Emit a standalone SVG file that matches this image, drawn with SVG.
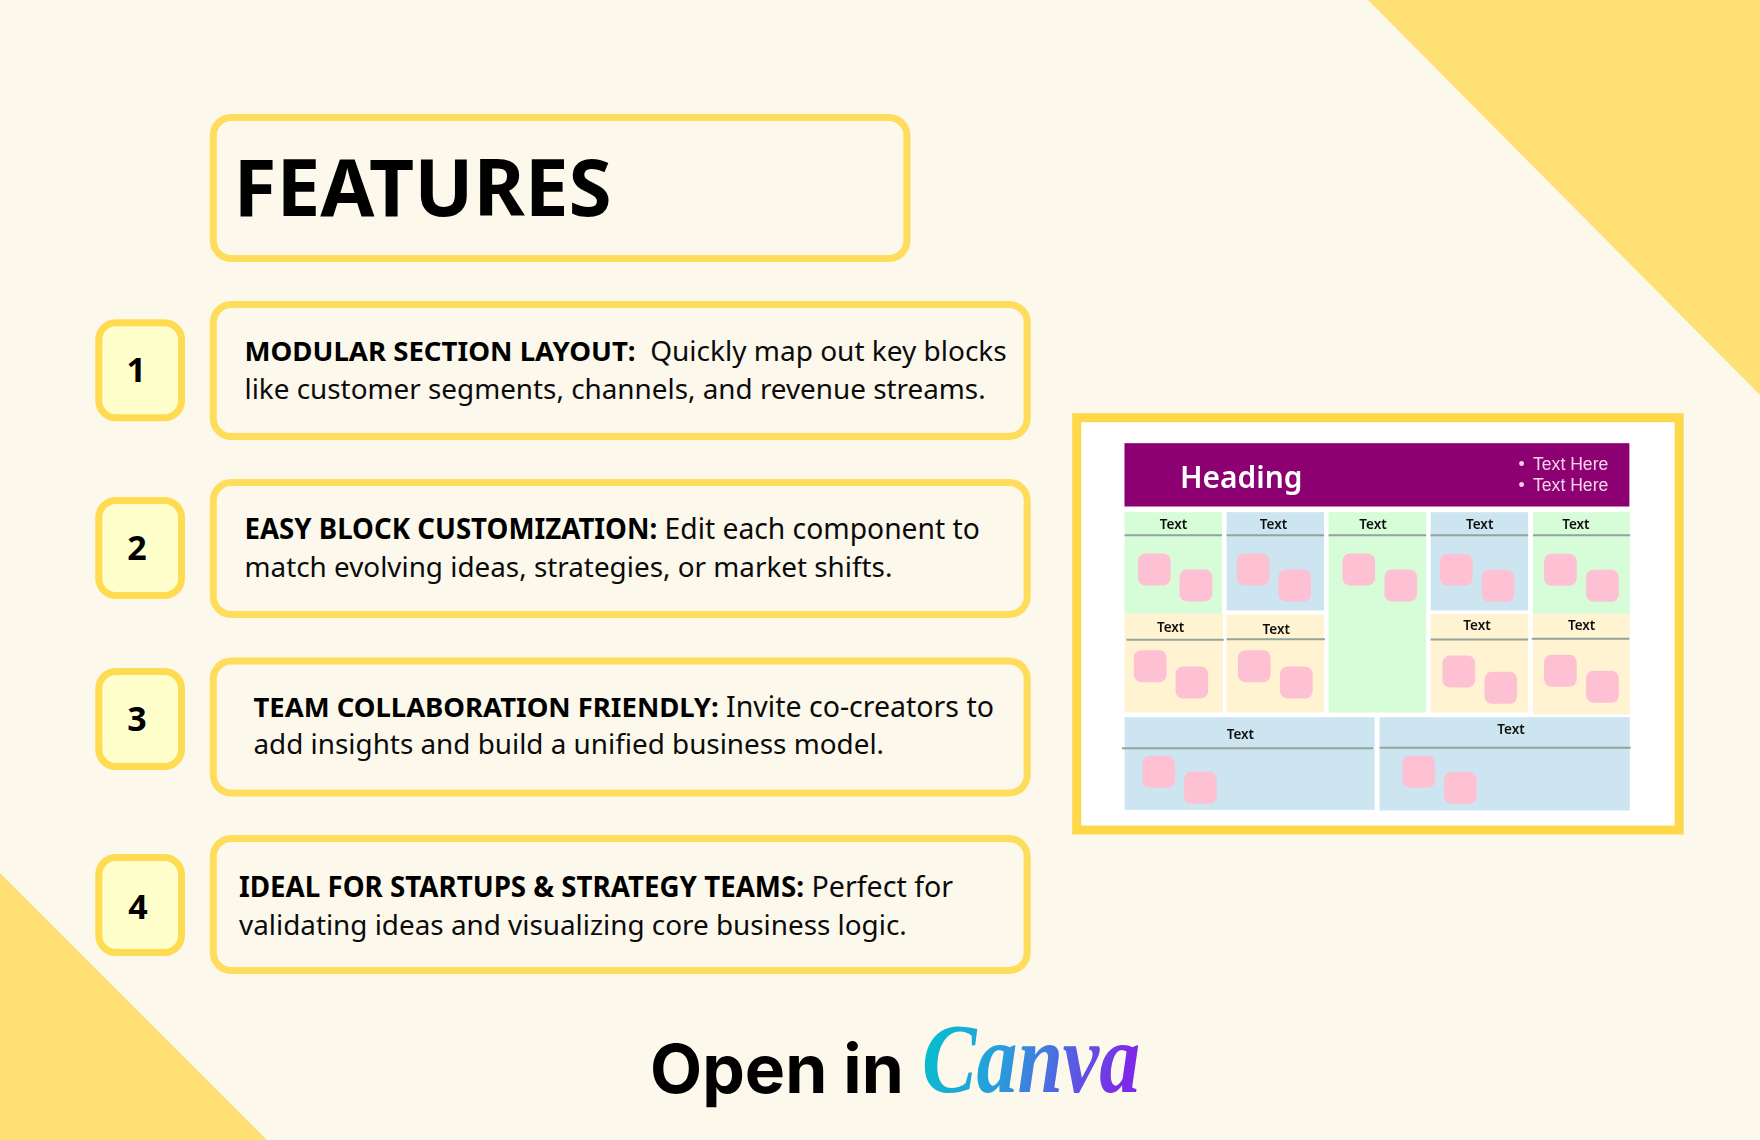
<svg xmlns="http://www.w3.org/2000/svg" width="1760" height="1140" viewBox="0 0 1760 1140">
<defs>
<linearGradient id="canvaGrad" x1="0" y1="0" x2="1" y2="0.15"><stop offset="0" stop-color="#00C4CC"/><stop offset="0.45" stop-color="#2A9BDC"/><stop offset="1" stop-color="#7D2AE8"/></linearGradient>
<filter id="soft" x="-2%" y="-2%" width="104%" height="104%"><feGaussianBlur stdDeviation="0.4"/></filter>
</defs>
<style>
.box{fill:#FCF8EB;stroke:#FFDD5C;stroke-width:7}
.num{fill:#FFFFCC;stroke:#FFDB52;stroke-width:7}
.numt{font:700 34px "Noto Sans",sans-serif;fill:#000;text-anchor:middle}
.body{font:400 27.85px "Noto Sans",sans-serif;fill:#0b0b0b}
.body .b{font-weight:700;fill:#000}
.g{fill:#D6FDD8}.bl{fill:#CDE5F1}.c{fill:#FFF3D1}
.s{fill:#FEC1D4;rx:18px;ry:22px}
.l{stroke:#93A49C;stroke-width:6;fill:none}
.t{font:600 13.5px "Noto Sans",sans-serif;fill:#111;text-anchor:middle}
.bul{font:400 17.6px "Liberation Sans",sans-serif;fill:#F5D3EC}
</style>
<rect width="1760" height="1140" fill="#FCF8EB"/>
<polygon points="1368,0 1760,0 1760,395" fill="#FFE074"/>
<polygon points="0,873 0,1140 267,1140" fill="#FFE074"/>

<g id="title"><rect class="box" x="213.3" y="117.5" width="693.6" height="141" rx="18"/>
<text x="233.5" y="216" font-family="Noto Sans, sans-serif" font-weight="700" font-size="78.3" fill="#000">FEATURES</text></g>

<g id="n1"><rect class="num" x="98.8" y="322.8" width="82.7" height="95" rx="17"/><text class="numt" x="136.3" y="382">1</text></g>
<g id="n2"><rect class="num" x="98.8" y="500.5" width="82.7" height="95" rx="17"/><text class="numt" x="137" y="560">2</text></g>
<g id="n3"><rect class="num" x="98.8" y="671.5" width="82.7" height="95" rx="17"/><text class="numt" x="137" y="730.5">3</text></g>
<g id="n4"><rect class="num" x="98.8" y="857.5" width="82.7" height="95" rx="17"/><text class="numt" x="138" y="918.5">4</text></g>

<g id="f1"><rect class="box" x="213.3" y="304.5" width="813.9" height="132" rx="18"/>
<text class="body" x="244.5" y="361" xml:space="preserve"><tspan class="b" font-size="27.6" style="font-size:27.6px">MODULAR SECTION LAYOUT:</tspan><tspan style="font-size:28px">  Quickly map out key blocks</tspan></text>
<text class="body" x="244.5" y="398.5">like customer segments, channels, and revenue streams.</text></g>
<g id="f2"><rect class="box" x="213.3" y="482.5" width="813.9" height="132" rx="18"/>
<text class="body" x="244.5" y="539.3"><tspan class="b" style="font-size:27.65px">EASY BLOCK CUSTOMIZATION:</tspan><tspan style="font-size:28.25px"> Edit each component to</tspan></text>
<text class="body" x="244.5" y="576.8">match evolving ideas, strategies, or market shifts.</text></g>
<g id="f3"><rect class="box" x="213.3" y="661" width="813.9" height="132" rx="18"/>
<text class="body" x="253.5" y="716.6"><tspan class="b" style="font-size:27.45px">TEAM COLLABORATION FRIENDLY:</tspan><tspan style="font-size:28.5px"> Invite co-creators to</tspan></text>
<text class="body" x="253.5" y="754.1">add insights and build a unified business model.</text></g>
<g id="f4"><rect class="box" x="213.3" y="838.5" width="813.9" height="132" rx="18"/>
<text class="body" x="239" y="897.4"><tspan class="b" style="font-size:27.72px">IDEAL FOR STARTUPS &amp; STRATEGY TEAMS:</tspan><tspan style="font-size:28.6px"> Perfect for</tspan></text>
<text class="body" x="239" y="934.9">validating ideas and visualizing core business logic.</text></g>

<g id="preview">
<rect x="1076.7" y="417.7" width="602.5" height="412.3" fill="#fff" stroke="#FFD84A" stroke-width="9"/>
<g filter="url(#soft)">
<g transform="translate(1060 400.5) scale(0.40816 0.33333)">
<rect x="158" y="128" width="1237" height="190" fill="#8C0372"/>
<rect class="g" x="158" y="335" width="239" height="305"/>
<rect class="bl" x="408" y="335" width="239" height="295"/>
<rect class="g" x="658" y="335" width="239" height="601"/>
<rect class="bl" x="908" y="335" width="239" height="295"/>
<rect class="g" x="1159" y="335" width="237" height="305"/>
<rect class="c" x="158" y="640" width="241" height="296"/>
<rect class="c" x="408" y="642" width="239" height="294"/>
<rect class="c" x="908" y="640" width="239" height="296"/>
<rect class="c" x="1159" y="640" width="237" height="302"/>
<rect class="bl" x="158" y="950" width="613" height="278"/>
<rect class="bl" x="783" y="950" width="613" height="280"/>
<path class="l" d="M158 404H397M408 404H647M658 404H897M908 404H1147M1159 404H1397M163 718H401M408 716H649M908 717H1147M1156 715H1395M152 1043H767M783 1042H1398"/>
<rect class="s" x="191" y="459" width="80" height="96"/><rect class="s" x="293" y="507" width="80" height="96"/>
<rect class="s" x="433" y="459" width="80" height="96"/><rect class="s" x="535" y="507" width="80" height="96"/>
<rect class="s" x="692" y="459" width="80" height="96"/><rect class="s" x="795" y="507" width="80" height="96"/>
<rect class="s" x="931" y="460" width="80" height="96"/><rect class="s" x="1033" y="508" width="80" height="96"/>
<rect class="s" x="1186" y="460" width="80" height="96"/><rect class="s" x="1289" y="508" width="80" height="96"/>
<rect class="s" x="181" y="749" width="80" height="96"/><rect class="s" x="283" y="798" width="80" height="96"/>
<rect class="s" x="436" y="749" width="80" height="96"/><rect class="s" x="539" y="798" width="80" height="96"/>
<rect class="s" x="937" y="765" width="80" height="96"/><rect class="s" x="1040" y="814" width="80" height="96"/>
<rect class="s" x="1186" y="763" width="80" height="96"/><rect class="s" x="1289" y="811" width="80" height="96"/>
<rect class="s" x="202" y="1066" width="80" height="96"/><rect class="s" x="304" y="1114" width="80" height="96"/>
<rect class="s" x="839" y="1066" width="80" height="96"/><rect class="s" x="941" y="1114" width="80" height="96"/>
</g>
<text x="1180" y="488.3" font-family="Noto Sans, sans-serif" font-weight="600" font-size="29.9" fill="#fff">Heading</text>
<text class="bul" x="1518.5" y="469.5">•<tspan x="1533">Text Here</tspan></text>
<text class="bul" x="1518.5" y="490.5">•<tspan x="1533">Text Here</tspan></text>
<text class="t" x="1173.5" y="529">Text</text><text class="t" x="1273.5" y="529">Text</text><text class="t" x="1373" y="529">Text</text><text class="t" x="1479.7" y="529">Text</text><text class="t" x="1575.9" y="529">Text</text>
<text class="t" x="1170.6" y="631.7">Text</text><text class="t" x="1276.3" y="634">Text</text><text class="t" x="1477" y="630.3">Text</text><text class="t" x="1581.6" y="630.3">Text</text>
<text class="t" x="1240.4" y="739">Text</text><text class="t" x="1511" y="734">Text</text>
</g>
</g>

<g id="cta">
<text x="650" y="1092.5" font-family="Inter, sans-serif" font-weight="700" font-size="67.7" fill="#000">Open in</text>
<text x="922" y="1092" font-family="Liberation Serif, serif" font-style="italic" font-weight="700" font-size="100" fill="url(#canvaGrad)" textLength="218" lengthAdjust="spacingAndGlyphs">Canva</text>
</g>
</svg>
